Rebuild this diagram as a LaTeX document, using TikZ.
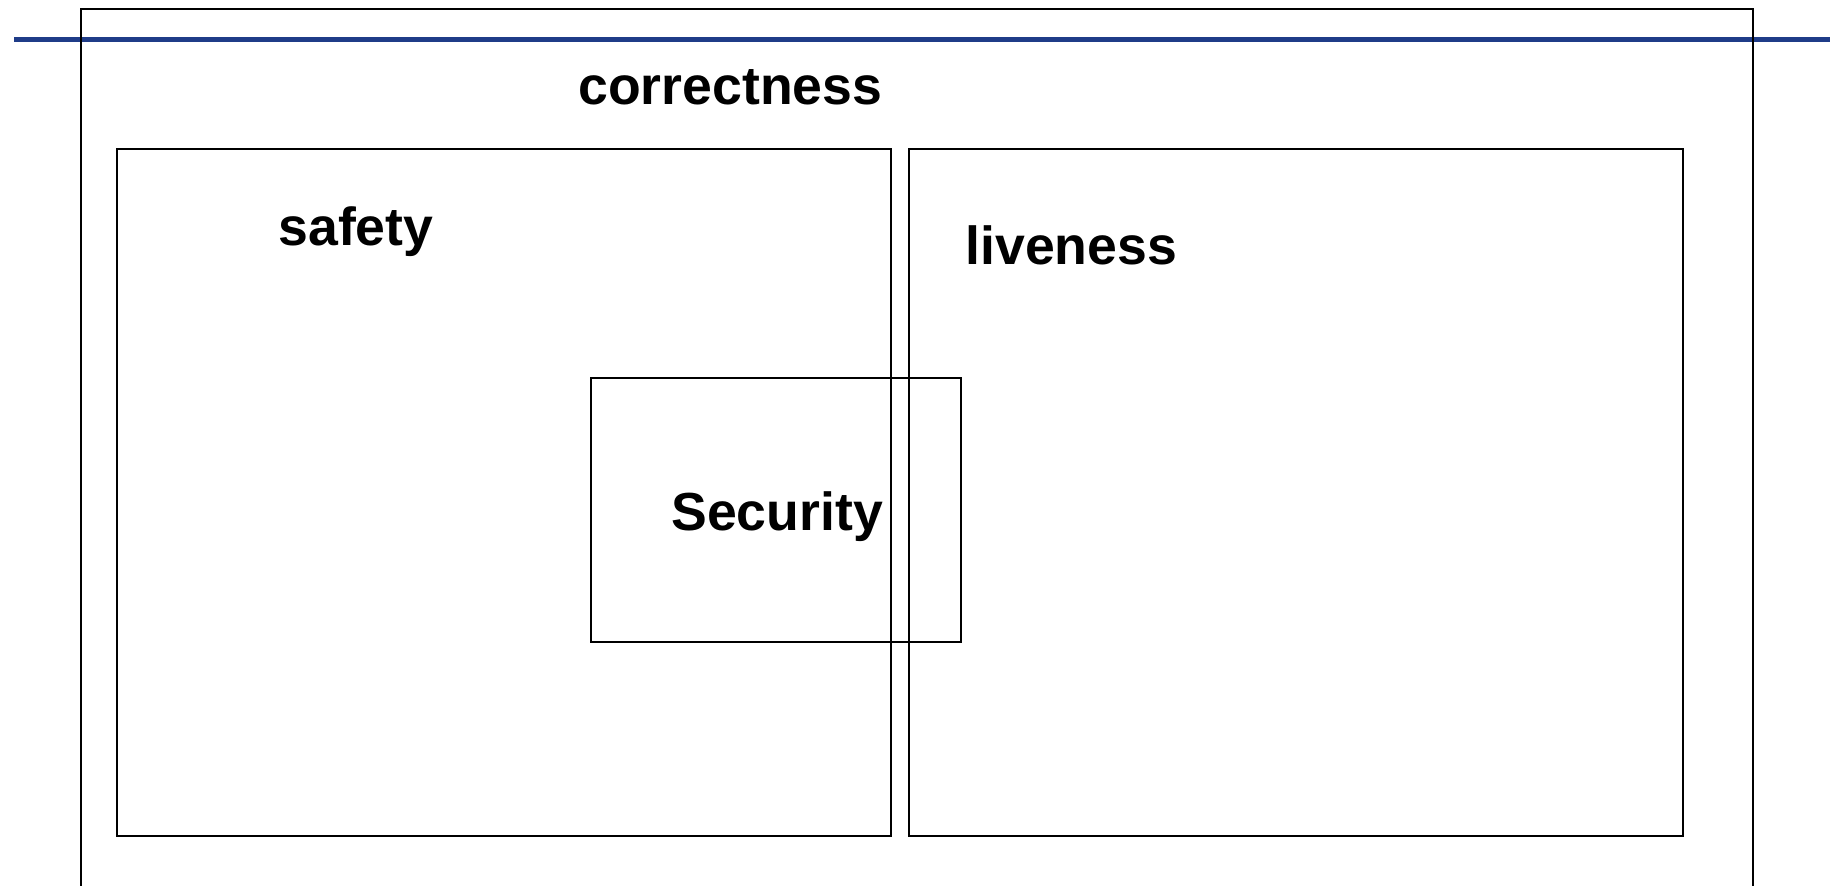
\documentclass[tikz,border=0pt]{standalone}
\usepackage{fontspec}
\setmainfont{Liberation Sans}
\definecolor{rulerblue}{RGB}{31,60,136}
\begin{document}
\begin{tikzpicture}[x=0.5pt,y=-0.5pt,
  frame/.style={draw=black,line width=1pt,fill=none,inner sep=0pt,outer sep=0pt,anchor=north west},
  label/.style={font=\fontsize{26.8pt}{30pt}\bfseries\selectfont,inner sep=0pt,anchor=base west}]
  \useasboundingbox (0,0) rectangle (1834,885);
  \clip (0,0) rectangle (1834,885);
  % horizontal rule across the top
  \coordinate (ruleL) at (14,39);
  \coordinate (ruleR) at (1830,39);
  \draw[rulerblue,line width=2.5pt] (ruleL) -- (ruleR);
  % outer frame, open below the page edge
  \node[frame,minimum width=836pt,minimum height=460pt] (correct) at (81,9) {};
  % the two halves and the overlapping box
  \node[frame,minimum width=387pt,minimum height=343.5pt] (safe) at (117,149) {};
  \node[frame,minimum width=387pt,minimum height=343.5pt] (live) at (909,149) {};
  \node[frame,minimum width=185pt,minimum height=132pt] (sec) at (591,377.5) {};
  % labels
  \node[label] (tcorrect) at (578,104.5) {correctness};
  \node[label] (tsafe) at (278,245) {safety};
  \node[label] (tlive) at (965,264) {liveness};
  \node[label] (tsec) at (671,530) {Security};
\end{tikzpicture}
\end{document}
